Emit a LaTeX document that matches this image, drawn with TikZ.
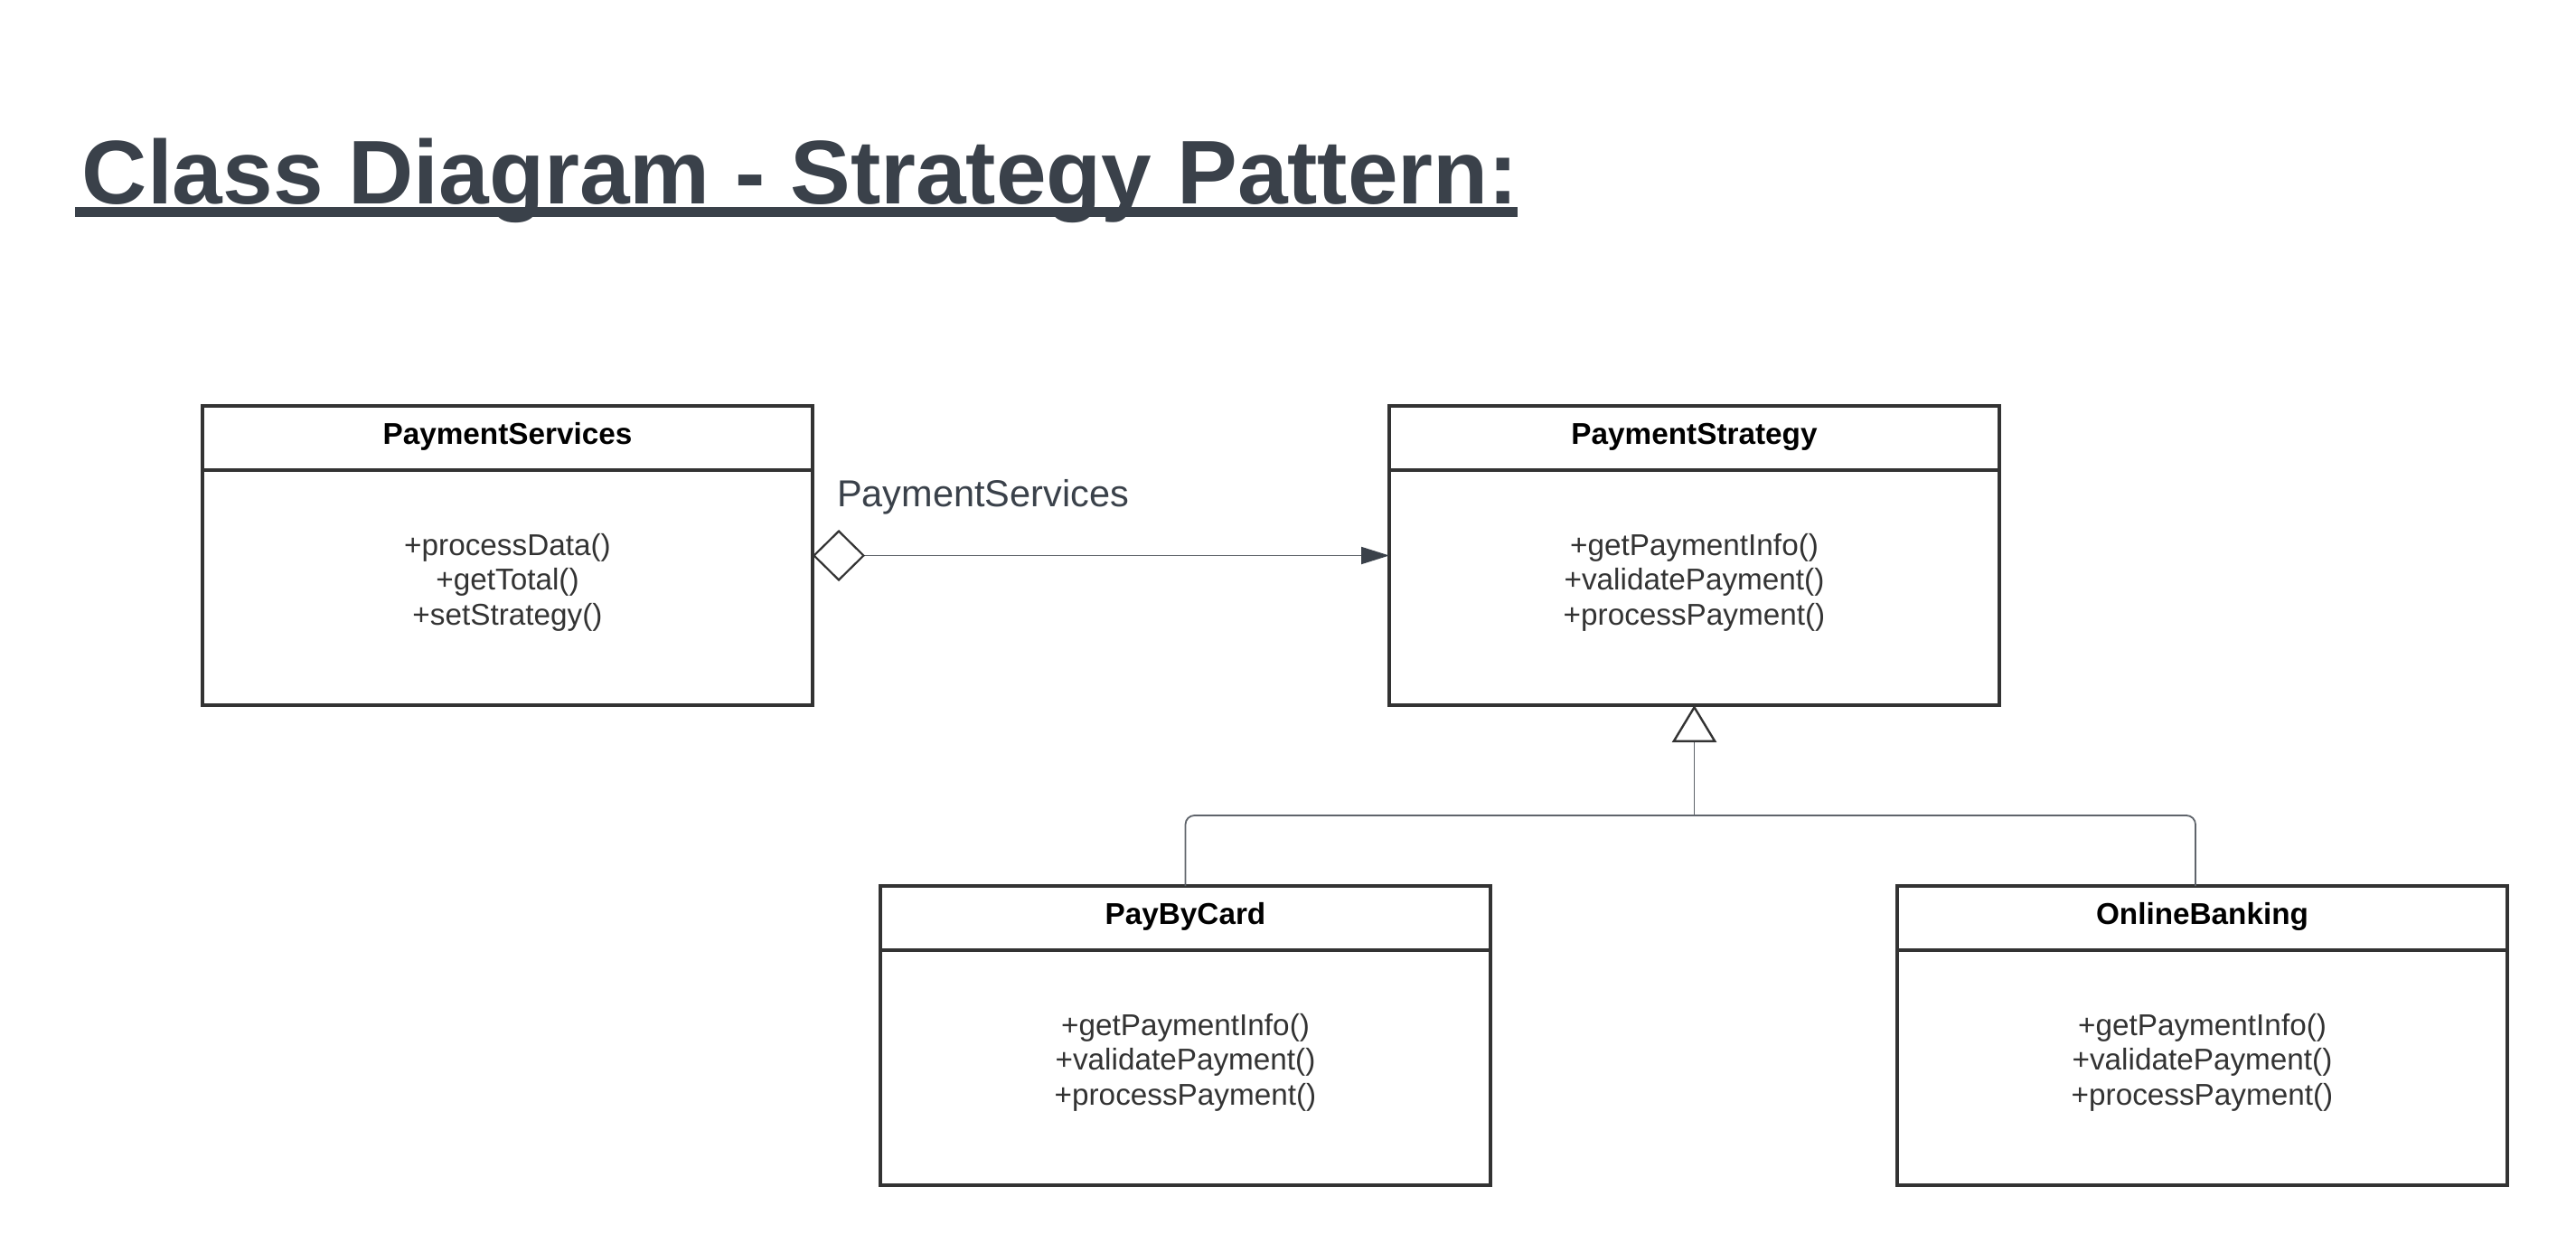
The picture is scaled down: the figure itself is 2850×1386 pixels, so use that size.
\documentclass[tikz,border=0pt]{standalone}
\usepackage{fontspec}
\setmainfont{Liberation Sans}
\usetikzlibrary{arrows.meta}
\definecolor{titlec}{HTML}{3A414A}
\definecolor{boxc}{HTML}{333333}
\definecolor{connc}{HTML}{5F646B}
\definecolor{tipc}{HTML}{3A414A}
\tikzset{
  classbox/.style={draw=boxc, line width=4pt, fill=white, minimum width=675pt, minimum height=331pt, inner sep=0pt, outer sep=0pt},
  divider/.style={draw=boxc, line width=4pt},
  classtitle/.style={font=\bfseries\fontsize{33.3}{38.3}\selectfont, text=black, inner sep=0pt},
  methods/.style={font=\fontsize{33.3}{38.3}\selectfont, text=boxc, align=center, inner sep=0pt},
  conn/.style={draw=connc, line width=1.8pt},
  lbl/.style={font=\fontsize{41.5}{47}\selectfont, text=titlec, inner sep=0pt},
  titletext/.style={font=\bfseries\fontsize{100}{110}\selectfont, text=titlec, inner sep=0pt}
}
\newcommand{\umlclass}[5]{%
  \node[classbox, anchor=north west] (#1) at (#2,#3) {};
  \draw[divider] ([yshift=-71pt]#1.north west) -- ([yshift=-71pt]#1.north east);
  \node[classtitle, anchor=base] (#1-title) at ([yshift=-42.7pt]#1.north) {#4};
  \node[methods, anchor=base] (#1-ops) at ([yshift=-242pt]#1.north) {#5};
}
\begin{document}
\begin{tikzpicture}[x=1pt, y=-1pt]
  \useasboundingbox (0,0) rectangle (2850,1386);
  \fill[white] (0,0) rectangle (2850,1386);

  % title
  \node[titletext, anchor=base west] (title) at (90.7,225) {Class Diagram - Strategy Pattern:};
  \fill[titlec] (83,229) rectangle (1679,240);

  % classes
  \umlclass{psvc}{224}{449}{PaymentServices}{+processData()\\+getTotal()\\+setStrategy()}
  \umlclass{pstrat}{1537}{449}{PaymentStrategy}{+getPaymentInfo()\\+validatePayment()\\+processPayment()}
  \umlclass{pbc}{974}{980}{PayByCard}{+getPaymentInfo()\\+validatePayment()\\+processPayment()}
  \umlclass{ob}{2099}{980}{OnlineBanking}{+getPaymentInfo()\\+validatePayment()\\+processPayment()}

  % aggregation
  \draw[conn, {Diamond[length=58pt, width=57pt, line width=2.2pt, color=boxc, fill=white]}-{Triangle[length=31pt, width=19pt, color=tipc, fill=tipc]}] (psvc.east) -- (pstrat.west);
  \node[lbl, anchor=base west] (agglabel) at (926,560) {PaymentServices};

  % inheritance
  \coordinate (jn) at ([yshift=-122pt]pstrat.south);
  \draw[conn, rounded corners=10pt] (pbc.north) |- (jn) -| ([xshift=-7.5pt]ob.north);
  \draw[conn, -{Triangle[length=41pt, width=49pt, line width=2.4pt, color=boxc, fill=white]}] (jn) -- (pstrat.south);
\end{tikzpicture}
\end{document}
